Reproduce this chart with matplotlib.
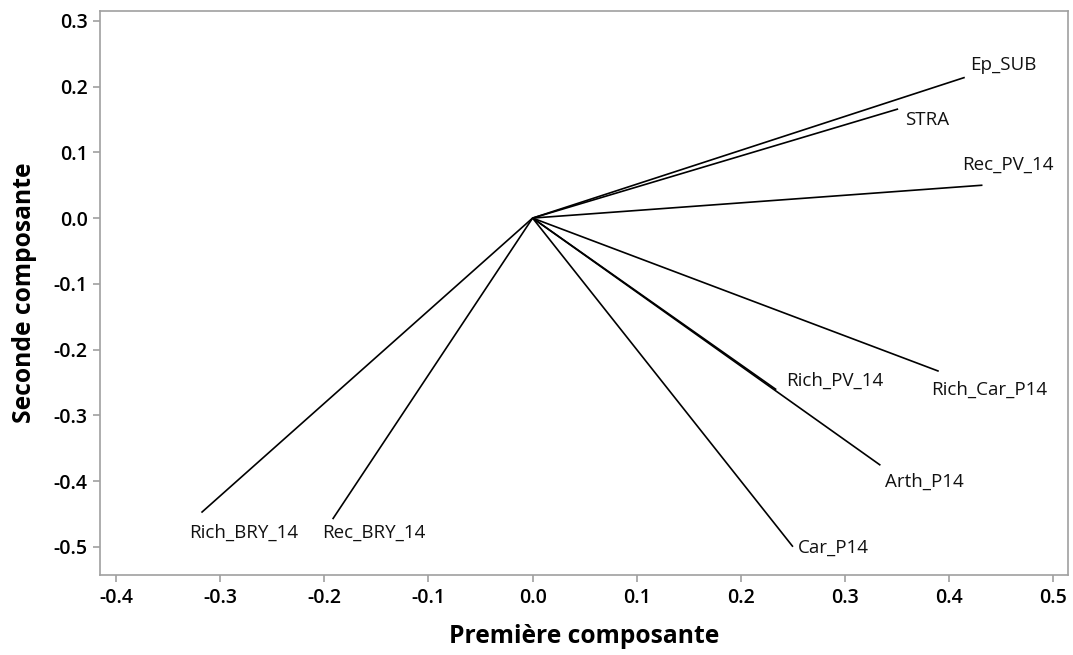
import matplotlib
matplotlib.use('Agg')
import matplotlib.pyplot as plt

plt.rcParams['font.family'] = ['Open Sans', 'DejaVu Sans']

# loadings
variables = ['Ep_SUB', 'STRA', 'Rec_PV_14', 'Rich_Car_P14', 'Rich_PV_14',
             'Arth_P14', 'Car_P14', 'Rich_BRY_14', 'Rec_BRY_14']
pc1 = [0.415, 0.351, 0.432, 0.390, 0.234, 0.334, 0.250, -0.318, -0.192]
pc2 = [0.214, 0.166, 0.050, -0.233, -0.261, -0.376, -0.500, -0.448, -0.458]

# label offsets in pixels (dx, dy)
label_offsets = [(5, 12), (7, -11), (-20, 20), (-8, -19), (10, 9),
                 (5, -17), (5, -1), (-12, -20), (-11, -14)]

xticks = [-0.4, -0.3, -0.2, -0.1, 0.0, 0.1, 0.2, 0.3, 0.4, 0.5]
yticks = [0.3, 0.2, 0.1, 0.0, -0.1, -0.2, -0.3, -0.4, -0.5]

fig = plt.figure(figsize=(10.73, 6.55), dpi=100)
ax = fig.add_axes([0.0932, 0.1221, 0.9024, 0.8611])

for x, y, name, off in zip(pc1, pc2, variables, label_offsets):
    ax.plot([0, x], [0, y], color='black', lw=1.2, solid_capstyle='butt')
    ax.annotate(name, (x, y), xytext=off, textcoords='offset pixels',
                ha='left', va='center', fontsize=13.5, color='#111111')

ax.set_xlim(-0.4154, 0.5144)
ax.set_ylim(-0.543, 0.315)
ax.set_xticks(xticks)
ax.set_yticks(yticks)
ax.set_xticklabels(['{:.1f}'.format(t) for t in xticks])
ax.set_yticklabels(['{:.1f}'.format(t) for t in yticks])

for s in ax.spines.values():
    s.set_color('#a0a0a0')
    s.set_linewidth(1.2)
ax.tick_params(direction='out', length=5, width=1.2, color='#a0a0a0',
               labelsize=14, labelcolor='black', pad=4)
for lab in ax.get_xticklabels() + ax.get_yticklabels():
    lab.set_fontweight('semibold')

ax.set_xlabel('Première composante', fontsize=17.7, fontweight='bold', labelpad=12)
ax.set_ylabel('Seconde composante', fontsize=17.7, fontweight='bold', labelpad=12)

plt.savefig('out.png', dpi=100)
